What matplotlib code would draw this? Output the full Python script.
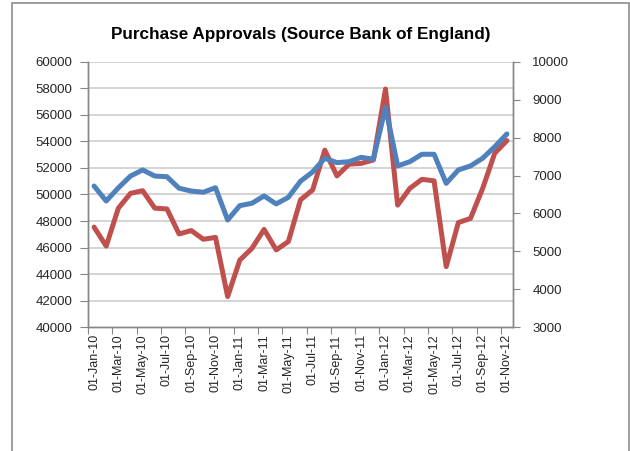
import numpy as np
import matplotlib
matplotlib.use('Agg')
import matplotlib.pyplot as plt
from matplotlib.patches import Rectangle

plt.rcParams['font.family'] = ['Liberation Sans', 'DejaVu Sans']

# monthly approvals, Jan 2010 - Nov 2012
months = ['Jan-10', 'Feb-10', 'Mar-10', 'Apr-10', 'May-10', 'Jun-10', 'Jul-10', 'Aug-10', 'Sep-10',
          'Oct-10', 'Nov-10', 'Dec-10', 'Jan-11', 'Feb-11', 'Mar-11', 'Apr-11', 'May-11', 'Jun-11',
          'Jul-11', 'Aug-11', 'Sep-11', 'Oct-11', 'Nov-11', 'Dec-11', 'Jan-12', 'Feb-12', 'Mar-12',
          'Apr-12', 'May-12', 'Jun-12', 'Jul-12', 'Aug-12', 'Sep-12', 'Oct-12', 'Nov-12']

# left axis series (blue)
approvals = [50640, 49510, 50500, 51390, 51850, 51390, 51340, 50470, 50260,
             50170, 50510, 48080, 49160, 49340, 49890, 49290, 49790, 51000,
             51700, 52730, 52400, 52470, 52800, 52650, 56570, 52150, 52470,
             53030, 53030, 50840, 51850, 52150, 52730, 53600, 54560]

# right axis series (red)
approvals_r = [5640, 5140, 6140, 6530, 6600, 6140, 6120, 5460, 5550,
               5320, 5370, 3810, 4770, 5080, 5580, 5040, 5260, 6360,
               6620, 7670, 6990, 7300, 7320, 7410, 9280, 6220, 6660,
               6900, 6860, 4600, 5760, 5870, 6660, 7590, 7920]

grid_c = '#c9c9c9'
axis_c = '#868686'
txt_c = '#262626'

fig = plt.figure(figsize=(6.3, 4.51), dpi=100)
fig.patches.append(Rectangle((11.5 / 630, -0.05), (629 - 11.5) / 630, 1.05 - 3 / 451,
                             transform=fig.transFigure, fill=False, ec='#8c8c8c', lw=1.2))

ax = fig.add_axes([88 / 630, 1 - 327.3 / 451, (513 - 88) / 630, (327.3 - 61.7) / 451])
ax2 = ax.twinx()

x = np.arange(len(months)) + 0.5
ax2.plot(x, approvals_r, color='#C0504D', lw=3.6, solid_capstyle='round', solid_joinstyle='round')
ax.plot(x, approvals, color='#4F81BD', lw=3.6, solid_capstyle='round', solid_joinstyle='round')
# blue line sits over the red one
ax.set_zorder(ax2.get_zorder() + 1)
ax.patch.set_visible(False)

ax.set_xlim(0, len(months))
ax.set_ylim(40000, 60000)
ax2.set_ylim(3000, 10000)
ax.set_yticks(np.arange(40000, 60001, 2000))
ax2.set_yticks(np.arange(3000, 10001, 1000))

# left-axis gridlines every 2000, drawn on the lower axes so they stay under both lines
for v in np.arange(42000, 60001, 2000):
    ax2.axhline(3000 + (v - 40000) * 7000 / 20000, color=grid_c, lw=1.1, zorder=0)

ax.set_xticks(np.arange(0, len(months), 2))
ax.set_xticklabels([])
ax.set_xticks(x[::2], minor=True)
ax.set_xticklabels(['01-' + m for m in months[::2]], minor=True, rotation=90)
ax.tick_params(axis='x', which='minor', length=0, pad=5, labelsize=9, labelcolor=txt_c)
ax.tick_params(axis='x', which='major', length=5, color=axis_c)
ax.tick_params(axis='y', length=6, color=axis_c, labelsize=9.5, labelcolor=txt_c, pad=5)
ax2.tick_params(axis='y', length=5, color=axis_c, labelsize=9.5, labelcolor=txt_c, pad=9)

for a in (ax, ax2):
    a.spines['top'].set_visible(False)
    for s in ('left', 'right', 'bottom'):
        a.spines[s].set_color(axis_c)
        a.spines[s].set_linewidth(1.0)

fig.text(301 / 630, 1 - 34 / 451, 'Purchase Approvals (Source Bank of England)',
         ha='center', va='center', fontsize=12.3, fontweight='bold', color='black')

fig.savefig('out.png', dpi=100)
